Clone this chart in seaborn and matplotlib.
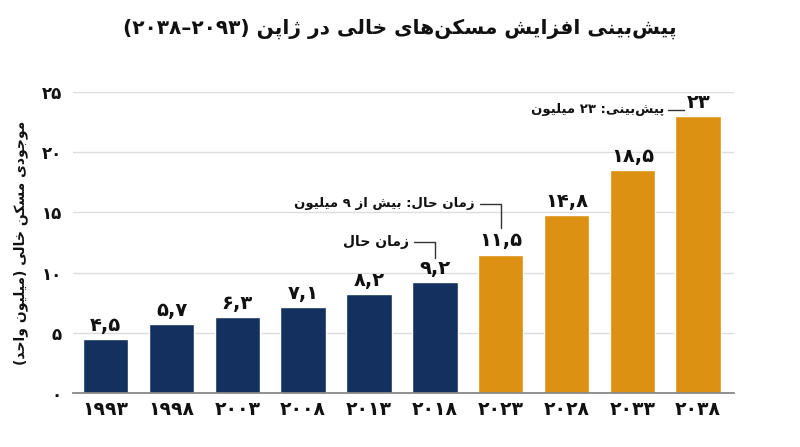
import matplotlib
matplotlib.use('Agg')
import matplotlib.pyplot as plt
import seaborn as sns
import pandas as pd

years = [1993, 1998, 2003, 2008, 2013, 2018, 2023, 2028, 2033, 2038]
vacant = [4.5, 5.7, 6.3, 7.1, 8.2, 9.2, 11.5, 14.8, 18.5, 23]
period = ['past'] * 6 + ['forecast'] * 4
yticks = [0, 5, 10, 15, 20, 25]

title = 'پیش‌بینی افزایش مسکن‌های خالی در ژاپن (۲۰۹۳–۲۰۳۸)'
ylabel = 'موجودی مسکن خالی (میلیون واحد)'
note_now = 'زمان حال'
note_now2 = 'زمان حال: بیش از ۹ میلیون'
note_forecast = 'پیش‌بینی: ۲۳ میلیون'

navy = '#14305e'
orange = '#dc9113'
ink = '#111111'

# matplotlib has no arabic shaping, so pick presentation forms by hand
FORMS = {
    'ا': ('\uFE8D', '\uFE8E', None, None),
    'ب': ('\uFE8F', '\uFE90', '\uFE91', '\uFE92'),
    'ت': ('\uFE95', '\uFE96', '\uFE97', '\uFE98'),
    'ج': ('\uFE9D', '\uFE9E', '\uFE9F', '\uFEA0'),
    'ح': ('\uFEA1', '\uFEA2', '\uFEA3', '\uFEA4'),
    'خ': ('\uFEA5', '\uFEA6', '\uFEA7', '\uFEA8'),
    'د': ('\uFEA9', '\uFEAA', None, None),
    'ر': ('\uFEAD', '\uFEAE', None, None),
    'ز': ('\uFEAF', '\uFEB0', None, None),
    'س': ('\uFEB1', '\uFEB2', '\uFEB3', '\uFEB4'),
    'ش': ('\uFEB5', '\uFEB6', '\uFEB7', '\uFEB8'),
    'ف': ('\uFED1', '\uFED2', '\uFED3', '\uFED4'),
    'ل': ('\uFEDD', '\uFEDE', '\uFEDF', '\uFEE0'),
    'م': ('\uFEE1', '\uFEE2', '\uFEE3', '\uFEE4'),
    'ن': ('\uFEE5', '\uFEE6', '\uFEE7', '\uFEE8'),
    'ه': ('\uFEE9', '\uFEEA', '\uFEEB', '\uFEEC'),
    'و': ('\uFEED', '\uFEEE', None, None),
    'پ': ('\uFB56', '\uFB57', '\uFB58', '\uFB59'),
    'ژ': ('\uFB8A', '\uFB8B', None, None),
    'ک': ('\uFB8E', '\uFB8F', '\uFB90', '\uFB91'),
    'ی': ('\uFBFC', '\uFBFD', '\uFBFE', '\uFBFF'),
}
DIGITS = set('۰۱۲۳۴۵۶۷۸۹,0123456789')
MIRROR = {'(': ')', ')': '('}


def fa(text):
    out = []
    for i, c in enumerate(text):
        if c == '\u200c':
            continue
        if c not in FORMS:
            out.append(c)
            continue
        prev = text[i - 1] if i > 0 else ''
        nxt = text[i + 1] if i + 1 < len(text) else ''
        jp = prev in FORMS and FORMS[prev][2] is not None
        jn = FORMS[c][2] is not None and nxt in FORMS
        iso, fin, ini, med = FORMS[c]
        out.append(med if jp and jn else fin if jp else ini if jn else iso)
    # visual order: reverse, keep digit runs left to right
    tokens = []
    for c in out:
        if c in DIGITS and tokens and tokens[-1][0] in DIGITS:
            tokens[-1] += c
        else:
            tokens.append(MIRROR.get(c, c))
    return ''.join(reversed(tokens))


def fa_num(x):
    s = str(x).replace('.', ',')
    return s.translate(str.maketrans('0123456789', '۰۱۲۳۴۵۶۷۸۹'))


df = pd.DataFrame({'year': [fa_num(y) for y in years], 'value': vacant, 'period': period})

sns.set_theme(style='whitegrid')
plt.rcParams['font.family'] = ['DejaVu Sans']
plt.rcParams['font.weight'] = 'bold'
plt.rcParams['text.color'] = ink
plt.rcParams['xtick.color'] = ink
plt.rcParams['ytick.color'] = ink
plt.rcParams['axes.labelcolor'] = ink

fig = plt.figure(figsize=(8, 4.47), dpi=100)
ax = fig.add_axes([0.091, 0.121, 0.827, 0.673])

sns.barplot(data=df, x='year', y='value', hue='period',
            palette={'past': navy, 'forecast': orange},
            width=0.69, legend=False, saturation=1, ax=ax)

for i, v in enumerate(vacant):
    ax.annotate(fa_num(v), (i, v), xytext=(0, 3), textcoords='offset points',
                ha='center', va='bottom', fontsize=14, fontweight='bold')

ax.set_ylim(0, 25)
ax.set_xlim(-0.5, 9.55)
ax.set_yticks(yticks)
ax.set_yticklabels([fa_num(t) for t in yticks], fontsize=12, fontweight='bold')
ax.tick_params(axis='x', labelsize=13.5, pad=5, length=0)
ax.tick_params(axis='y', pad=8, length=0)
for lab in ax.get_xticklabels():
    lab.set_fontweight('bold')
ax.set_xlabel('')
ax.set_ylabel(fa(ylabel), fontsize=10, fontweight='bold')
ax.yaxis.set_label_coords(-0.068, 0.5)

ax.grid(axis='y', color='#dddddd', linewidth=1)
ax.grid(axis='x', visible=False)
for s in ['left', 'right', 'top']:
    ax.spines[s].set_visible(False)
ax.spines['bottom'].set_color('#888888')
ax.spines['bottom'].set_linewidth(1.3)
ax.set_axisbelow(True)

# callouts
lc = '#333333'
ax.plot([4.68, 5.0, 5.0], [12.5, 12.5, 11.2], color=lc, lw=1, clip_on=False)
ax.text(4.6, 12.5, fa(note_now), ha='right', va='center', fontsize=10, fontweight='bold')
ax.plot([5.68, 6.0, 6.0], [15.7, 15.7, 13.7], color=lc, lw=1, clip_on=False)
ax.text(5.6, 15.7, fa(note_now2), ha='right', va='center', fontsize=9.5, fontweight='bold')
ax.plot([8.54, 8.78], [23.55, 23.55], color=lc, lw=1, clip_on=False)
ax.text(8.48, 23.55, fa(note_forecast), ha='right', va='center', fontsize=9.5, fontweight='bold')

fig.text(0.5, 0.935, fa(title), ha='center', va='center', fontsize=14.5, fontweight='bold')

fig.savefig('out.png', dpi=100)
